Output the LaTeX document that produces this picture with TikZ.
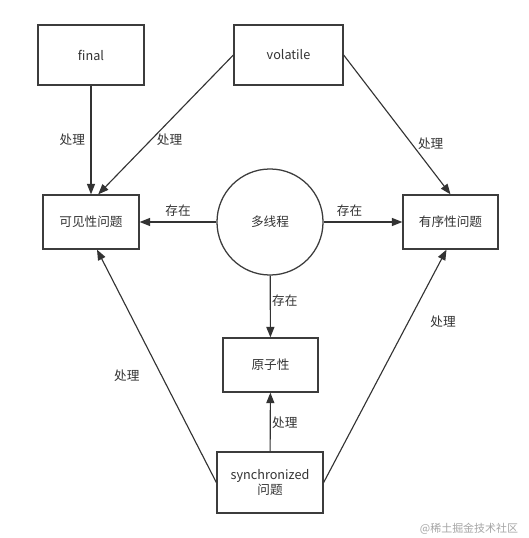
\documentclass[tikz,border=0pt]{standalone}
\usepackage{fontspec}
\usepackage{tikz}
\usetikzlibrary{arrows.meta}
\newfontfamily\cjk{Noto Sans CJK SC}
\definecolor{edgegray}{HTML}{333333}
\definecolor{boxgray}{HTML}{3C3C3C}

\begin{document}
\begin{tikzpicture}[x=0.025cm,y=-0.025cm,
  box/.style={draw=boxgray,line width=0.9pt,fill=white,inner sep=0pt,font=\cjk\fontsize{9}{11}\selectfont,align=center,text=black!80},
  arr/.style={-{Triangle[length=0.26cm,width=0.2cm]},draw=edgegray,line width=0.8pt},
  lbl/.style={font=\cjk\fontsize{9}{11}\selectfont,text=black!80,inner sep=1pt}]
% Background
\fill[white] (0,0) rectangle (528,538);
\useasboundingbox (0,0) rectangle (528,538);
% Boxes
\node[box,minimum width=2.65cm,minimum height=1.5cm] (final) at (91,55) {final};
\node[box,minimum width=2.725cm,minimum height=1.5cm] (volatile) at (288.5,55) {volatile};
\node[box,minimum width=2.4cm,minimum height=1.35cm] (kjx) at (91,222) {可见性问题};
\node[box,circle,minimum size=2.65cm] (dxc) at (270,222) {多线程};
\node[box,minimum width=2.375cm,minimum height=1.35cm] (yxx) at (450.5,222) {有序性问题};
\node[box,minimum width=2.375cm,minimum height=1.35cm] (yzx) at (270.5,365) {原子性};
\node[box,minimum width=2.65cm,minimum height=1.525cm] (sync) at (270,482.5) {synchronized\\问题};
% Arrows
\draw[arr] (final) -- (kjx) node[lbl,midway,left=0.1cm] {处理};
\draw[arr] (volatile.west) -- ([xshift=0.18cm]kjx.north) node[lbl,pos=0.61,right=0.1cm] {处理};
\draw[arr] (volatile.east) -- (yxx.north) node[lbl,pos=0.64,right=0.1cm] {处理};
\draw[arr] (dxc) -- (kjx) node[lbl,midway,above=0.1cm] {存在};
\draw[arr] (dxc) -- (yxx) node[lbl,pos=0.33,above=0.1cm] {存在};
\draw[arr] (dxc) -- (yzx) node[lbl,pos=0.4,right] {存在};
\draw[arr] (sync) -- (yzx) node[lbl,pos=0.48,right] {处理};
\draw[arr] (sync.west) -- ([xshift=0.15cm]kjx.south) node[lbl,pos=0.46,left=0.5cm] {处理};
\draw[arr] (sync.east) -- ([xshift=-0.1cm]yxx.south) node[lbl,pos=0.69,right=0.5cm] {处理};
% Watermark
\node[font=\cjk\fontsize{7.8}{9}\selectfont,text=black!35,inner sep=0pt] (mark) at (469,529) {@稀土掘金技术社区};
\end{tikzpicture}
\end{document}
